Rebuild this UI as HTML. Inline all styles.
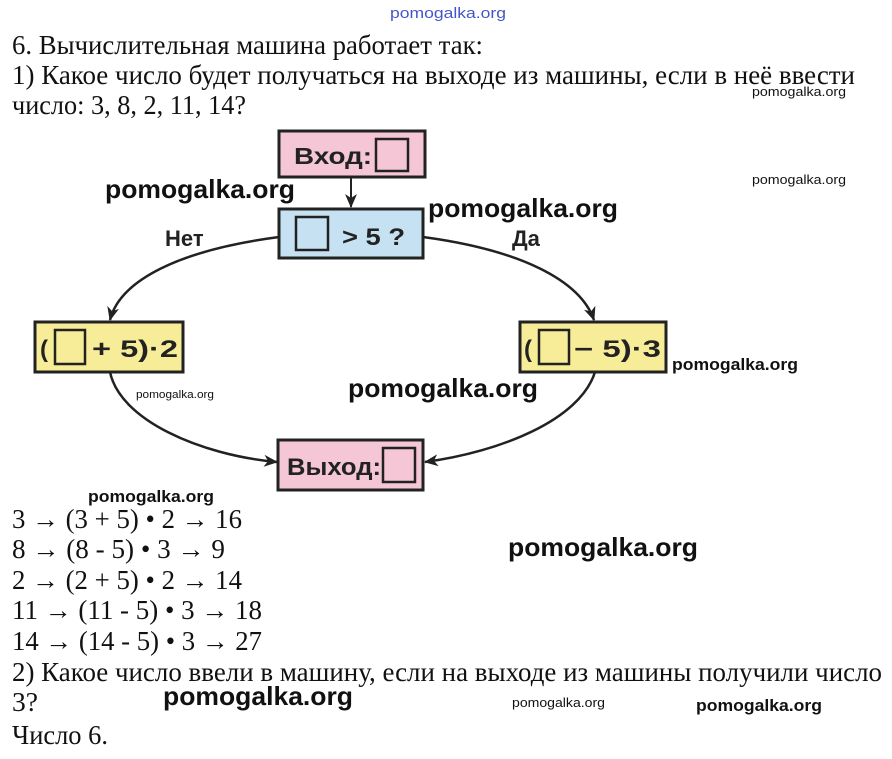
<!DOCTYPE html>
<html><head><meta charset="utf-8"><style>
html,body{margin:0;padding:0;background:#fff;}
svg{display:block;}
.t{font-family:"Liberation Serif",serif;font-size:27px;fill:#111;}
.w{font-family:"Liberation Sans",sans-serif;font-weight:bold;fill:#111;}
.d{font-family:"Liberation Sans",sans-serif;font-weight:bold;fill:#222;}
</style></head><body>
<svg width="892" height="759" viewBox="0 0 892 759" xmlns="http://www.w3.org/2000/svg">
<defs><marker id="a" markerWidth="14" markerHeight="12" refX="13" refY="6" orient="auto" markerUnits="userSpaceOnUse"><path d="M0,0 L14,6 L0,12 L4,6 Z" fill="#222"/></marker></defs>
<text x="390" y="18" textLength="116" lengthAdjust="spacingAndGlyphs" style="font-family:'Liberation Sans',sans-serif;font-size:15px;fill:#4455cc">pomogalka.org</text>
<text class="t" x="12" y="54" textLength="471" lengthAdjust="spacingAndGlyphs">6. Вычислительная машина работает так:</text>
<text class="t" x="12" y="84" textLength="843" lengthAdjust="spacingAndGlyphs">1) Какое число будет получаться на выходе из машины, если в неё ввести</text>
<text class="t" x="12" y="114" textLength="234" lengthAdjust="spacingAndGlyphs">число: 3, 8, 2, 11, 14?</text>

<line x1="351" y1="177" x2="351" y2="207" stroke="#222" stroke-width="2" marker-end="url(#a)"/>
<path d="M279,237 C180,250 120,280 110,320" fill="none" stroke="#222" stroke-width="2.5" marker-end="url(#a)"/>
<path d="M423,237 C520,250 580,280 594,320" fill="none" stroke="#222" stroke-width="2.5" marker-end="url(#a)"/>
<path d="M110,372 C120,420 200,455 277,462" fill="none" stroke="#222" stroke-width="2.5" marker-end="url(#a)"/>
<path d="M595,372 C580,420 500,452 425,462" fill="none" stroke="#222" stroke-width="2.5" marker-end="url(#a)"/>

<rect x="279" y="131" width="146" height="46" fill="#f4c6d6" stroke="#222" stroke-width="3"/>
<text class="d" x="294" y="164" font-size="23" textLength="78" lengthAdjust="spacingAndGlyphs">Вход:</text>
<rect x="376" y="139" width="32" height="32" fill="#f4c6d6" stroke="#222" stroke-width="2.5"/>

<rect x="279" y="209" width="144" height="49" fill="#c6e2f2" stroke="#222" stroke-width="3"/>
<rect x="296" y="217" width="32" height="33" fill="#c6e2f2" stroke="#222" stroke-width="2.5"/>
<text class="d" x="342" y="245" font-size="24" textLength="63" lengthAdjust="spacingAndGlyphs">&gt; 5 ?</text>
<text class="d" x="165" y="246" font-size="22">Нет</text>
<text class="d" x="512" y="246" font-size="22">Да</text>

<rect x="35" y="322" width="148" height="50" fill="#f7ec98" stroke="#222" stroke-width="3"/>
<text class="d" x="40" y="357" font-size="24">(</text>
<rect x="55" y="330" width="30" height="34" fill="#f7ec98" stroke="#222" stroke-width="2.5"/>
<text class="d" x="92" y="357" font-size="24" textLength="86" lengthAdjust="spacingAndGlyphs">+ 5)·2</text>

<rect x="520" y="322" width="146" height="50" fill="#f7ec98" stroke="#222" stroke-width="3"/>
<text class="d" x="524" y="357" font-size="24">(</text>
<rect x="539" y="330" width="30" height="34" fill="#f7ec98" stroke="#222" stroke-width="2.5"/>
<text class="d" x="574" y="357" font-size="24" textLength="87" lengthAdjust="spacingAndGlyphs">− 5)·3</text>

<rect x="278" y="440" width="145" height="50" fill="#f4c6d6" stroke="#222" stroke-width="3"/>
<text class="d" x="287" y="475" font-size="24" textLength="94" lengthAdjust="spacingAndGlyphs">Выход:</text>
<rect x="383" y="448" width="32" height="34" fill="#f4c6d6" stroke="#222" stroke-width="2.5"/>

<text class="t" x="12" y="528" textLength="230" lengthAdjust="spacingAndGlyphs">3 → (3 + 5) • 2 → 16</text>
<text class="t" x="12" y="558" textLength="213" lengthAdjust="spacingAndGlyphs">8 → (8 - 5) • 3 → 9</text>
<text class="t" x="12" y="589" textLength="230" lengthAdjust="spacingAndGlyphs">2 → (2 + 5) • 2 → 14</text>
<text class="t" x="12" y="619" textLength="250" lengthAdjust="spacingAndGlyphs">11 → (11 - 5) • 3 → 18</text>
<text class="t" x="12" y="650" textLength="250" lengthAdjust="spacingAndGlyphs">14 → (14 - 5) • 3 → 27</text>
<text class="t" x="12" y="681" textLength="870" lengthAdjust="spacingAndGlyphs">2) Какое число ввели в машину, если на выходе из машины получили число</text>
<text class="t" x="12" y="711" textLength="26" lengthAdjust="spacingAndGlyphs">3?</text>
<text class="t" x="12" y="744" textLength="96" lengthAdjust="spacingAndGlyphs">Число 6.</text>

<text class="w" x="105" y="198" font-size="26" textLength="190" lengthAdjust="spacingAndGlyphs">pomogalka.org</text>
<text class="w" x="428" y="217" font-size="26" textLength="190" lengthAdjust="spacingAndGlyphs">pomogalka.org</text>
<text class="w" x="348" y="397" font-size="26" textLength="190" lengthAdjust="spacingAndGlyphs">pomogalka.org</text>
<text class="w" x="508" y="556" font-size="26" textLength="190" lengthAdjust="spacingAndGlyphs">pomogalka.org</text>
<text class="w" x="163" y="705" font-size="26" textLength="190" lengthAdjust="spacingAndGlyphs">pomogalka.org</text>
<text x="752" y="96" font-size="13" textLength="94" lengthAdjust="spacingAndGlyphs" style="font-family:'Liberation Sans',sans-serif;fill:#111">pomogalka.org</text>
<text x="752" y="184" font-size="13" textLength="94" lengthAdjust="spacingAndGlyphs" style="font-family:'Liberation Sans',sans-serif;fill:#111">pomogalka.org</text>
<text class="w" x="672" y="370" font-size="17" textLength="126" lengthAdjust="spacingAndGlyphs">pomogalka.org</text>
<text x="136" y="398" font-size="11" textLength="78" lengthAdjust="spacingAndGlyphs" style="font-family:'Liberation Sans',sans-serif;fill:#111">pomogalka.org</text>
<text class="w" x="88" y="502" font-size="17" textLength="126" lengthAdjust="spacingAndGlyphs">pomogalka.org</text>
<text x="512" y="707" font-size="13" textLength="93" lengthAdjust="spacingAndGlyphs" style="font-family:'Liberation Sans',sans-serif;fill:#111">pomogalka.org</text>
<text class="w" x="696" y="711" font-size="17" textLength="126" lengthAdjust="spacingAndGlyphs">pomogalka.org</text>
</svg>
</body></html>
